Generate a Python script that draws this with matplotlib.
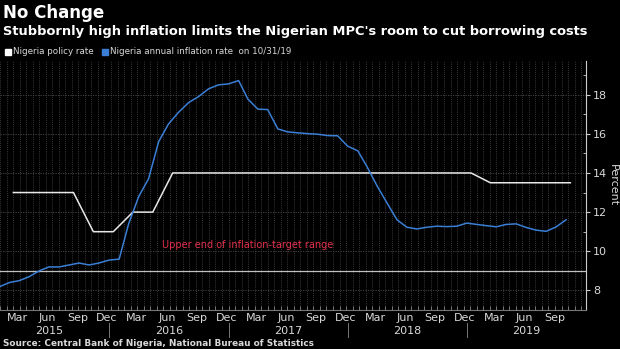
import matplotlib
matplotlib.use('Agg')
import matplotlib.pyplot as plt
import matplotlib.transforms as mtransforms
import numpy as np
import pandas as pd

# monthly inflation, Jan 2015 - Oct 2019 (plotted at month end)
infl_dates = pd.date_range('2015-01-31', '2019-10-31', freq='ME')
inflation = [8.2, 8.4, 8.5, 8.7, 9.0, 9.2, 9.2, 9.3, 9.4, 9.3, 9.4, 9.55,
             9.6, 11.4, 12.8, 13.7, 15.6, 16.5, 17.1, 17.6, 17.9, 18.3, 18.5, 18.55,
             18.72, 17.78, 17.26, 17.24, 16.25, 16.1, 16.05, 16.01, 15.98, 15.91, 15.9, 15.37,
             15.13, 14.33, 13.34, 12.48, 11.61, 11.23, 11.14, 11.23, 11.28, 11.26, 11.28, 11.44,
             11.37, 11.31, 11.25, 11.37, 11.4, 11.22, 11.08, 11.02, 11.24, 11.61]

# policy rate at MPC meetings (every two months)
policy_dates = pd.date_range('2015-03-01', periods=29, freq='2MS') + pd.Timedelta(days=12)
policy = [13, 13, 13, 13, 11,
          11, 12, 12, 14, 14, 14,
          14, 14, 14, 14, 14, 14,
          14, 14, 14, 14, 14, 14,
          14, 13.5, 13.5, 13.5, 13.5, 13.5]

target_upper = 9
yticks = [8, 10, 12, 14, 16, 18]
month_names = ['Mar', 'Jun', 'Sep', 'Dec']
years = [2015, 2016, 2017, 2018, 2019]

BG = '#000000'
BLUE = '#3a7fd5'
WHITE = '#e8e8e8'
GRID = '#4a4a4a'
TXT = '#d9d9d9'

fig = plt.figure(figsize=(6.2, 3.49), dpi=100, facecolor=BG)
ax = fig.add_axes([0, 39 / 349, 586 / 620, 249 / 349], facecolor=BG)

ax.plot(policy_dates, policy, color=WHITE, lw=1.1, zorder=3)
ax.plot(infl_dates, inflation, color=BLUE, lw=1.1, zorder=4)
ax.axhline(target_upper, color='#bfbfbf', lw=0.9, zorder=2)
ax.text(pd.Timestamp('2016-06-10'), 10.32, 'Upper end of inflation-target range',
        color='#e0304a', fontsize=7, va='center', ha='left')

x0 = pd.Timestamp('2015-01-31')
x1 = pd.Timestamp('2019-12-31')
ax.set_xlim(x0, x1)
ax.set_ylim(7.14, 19.72)

# dense dotted vertical grid / ticks
grid_x = pd.date_range(x0, x1, freq='20D')
ax.set_xticks(grid_x)
ax.set_xticklabels([])
ax.tick_params(axis='x', direction='in', length=3, color='#888888', width=0.6)
ax.set_yticks(yticks)
ax.set_yticks(np.arange(7, 20, 1), minor=True)
ax.yaxis.tick_right()
ax.tick_params(axis='y', which='major', direction='out', length=3, color='#cccccc',
               labelcolor=TXT, labelsize=8, pad=2)
ax.tick_params(axis='y', which='minor', direction='in', length=2, color='#cccccc')
fig.text(613 / 620, 1 - 185 / 349, 'Percent', color=TXT, fontsize=8, rotation=270,
         ha='center', va='center')

ax.grid(True, axis='x', color=GRID, ls=(0, (1, 1.5)), lw=0.6)
ax.grid(True, axis='y', color=GRID, ls=(0, (1.5, 1.5)), lw=0.6)
ax.set_axisbelow(True)

for s in ['top', 'left']:
    ax.spines[s].set_visible(False)
ax.spines['right'].set_color('#cccccc')
ax.spines['right'].set_linewidth(0.8)
ax.spines['bottom'].set_color('#777777')
ax.spines['bottom'].set_linewidth(0.8)

# month / year labels under the axis
trans = mtransforms.blended_transform_factory(ax.transData, ax.transAxes)
for yr in years:
    for i, mn in enumerate(month_names):
        if yr == 2019 and mn == 'Dec':
            continue
        d = pd.Timestamp(f'{yr}-{3 * i + 3:02d}-25')
        ax.text(d, -0.032, mn, transform=trans, ha='center', va='center',
                color=TXT, fontsize=8)
    ax.text(pd.Timestamp(f'{yr}-07-01'), -0.084, str(yr), transform=trans,
            ha='center', va='center', color=TXT, fontsize=8)
    if yr > 2015:
        ax.plot([pd.Timestamp(f'{yr}-01-01')] * 2, [-0.052, -0.108], transform=trans,
                color='#777777', lw=0.7, clip_on=False)

# titles, legend, source
fig.text(3 / 620, 1 - 13 / 349, 'No Change', color='white', fontsize=12,
         fontweight='bold', va='center', ha='left')
fig.text(3 / 620, 1 - 32 / 349,
         "Stubbornly high inflation limits the Nigerian MPC's room to cut borrowing costs",
         color='white', fontsize=9.35, fontweight='bold', va='center', ha='left')

ly = 1 - 52 / 349
fig.patches.append(plt.Rectangle((5 / 620, ly - 3 / 349), 6 / 620, 6 / 349,
                                 transform=fig.transFigure, color='white', figure=fig))
fig.text(13 / 620, ly, 'Nigeria policy rate', color=TXT, fontsize=6.3, va='center',
         ha='left')
fig.patches.append(plt.Rectangle((102 / 620, ly - 3 / 349), 6 / 620, 6 / 349,
                                 transform=fig.transFigure, color=BLUE, figure=fig))
fig.text(110 / 620, ly, 'Nigeria annual inflation rate  on 10/31/19', color=TXT,
         fontsize=6.3, va='center', ha='left')

fig.text(3 / 620, 1 - 343 / 349, 'Source: Central Bank of Nigeria, National Bureau of Statistics',
         color=TXT, fontsize=6.4, fontweight='bold', va='center', ha='left')

fig.savefig('out.png', dpi=100, facecolor=BG)
